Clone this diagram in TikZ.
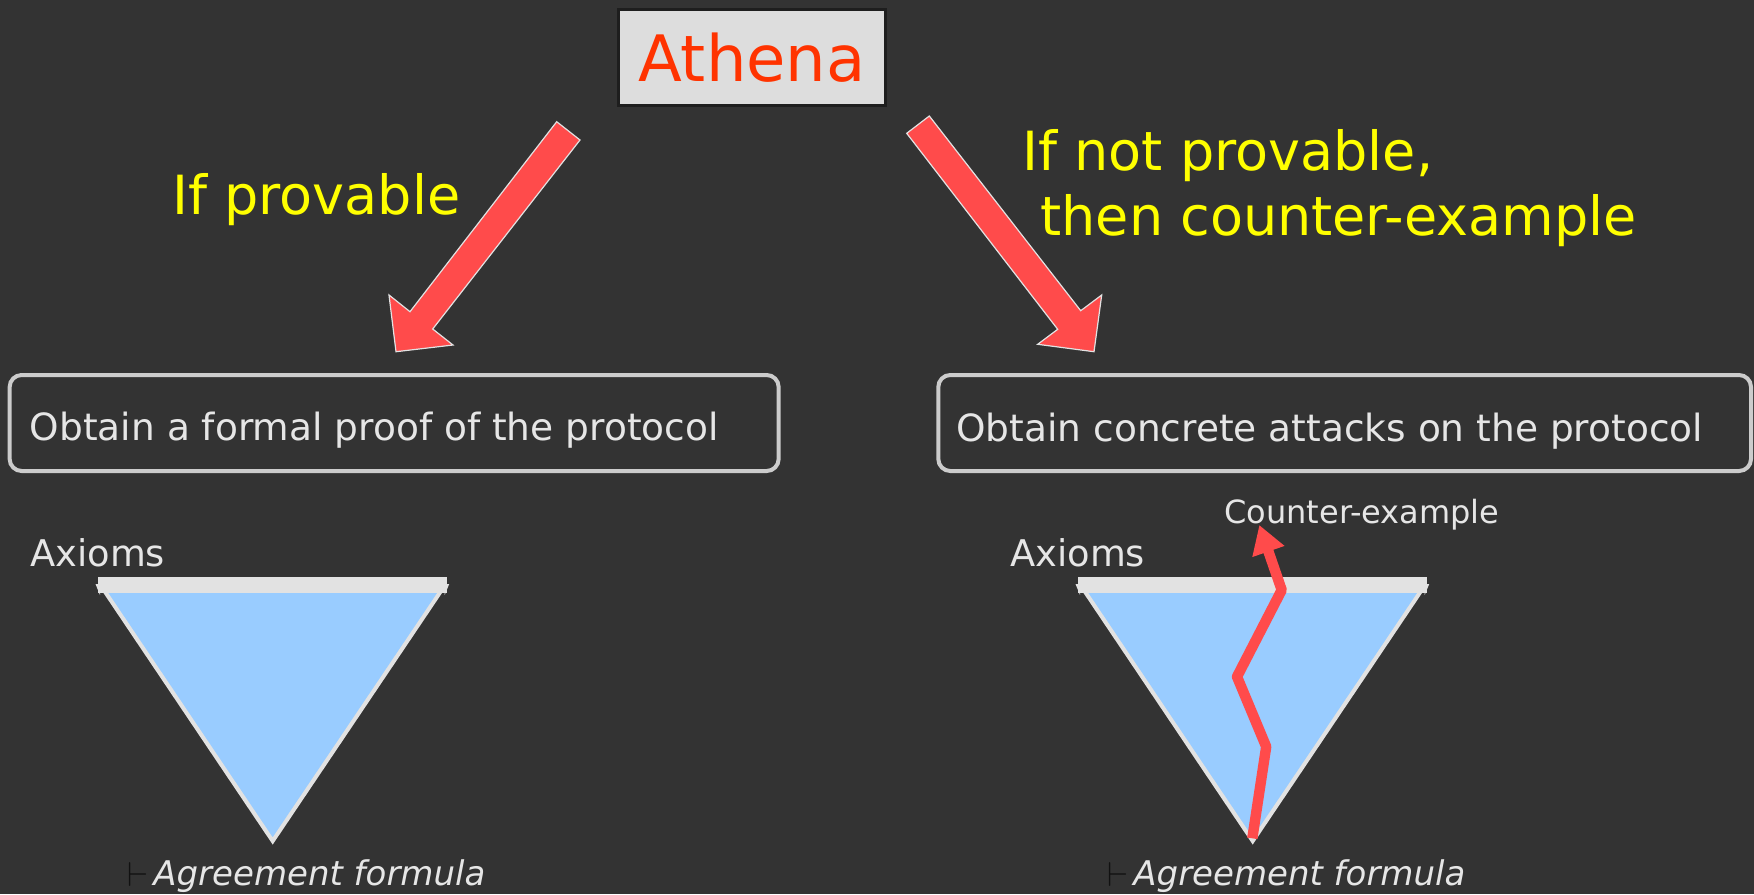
\documentclass[tikz,border=0pt]{standalone}
\usepackage{fontspec}
\setmainfont{DejaVu Sans}
\usetikzlibrary{arrows.meta}

\definecolor{bg}{HTML}{333333}
\definecolor{athenafill}{HTML}{DDDDDD}
\definecolor{athenaframe}{HTML}{1E1E1E}
\definecolor{athenared}{HTML}{FF3300}
\definecolor{arrowred}{HTML}{FF4B4B}
\definecolor{softgrey}{HTML}{CCCCCC}
\definecolor{lighttext}{HTML}{E6E6E6}
\definecolor{skyblue}{HTML}{99CCFF}
\definecolor{edgegrey}{HTML}{E2E2E2}
\definecolor{hintyellow}{HTML}{FFFF00}
\definecolor{turnstile}{HTML}{111111}

\begin{document}
\begin{tikzpicture}[x=0.5pt,y=-0.5pt,
  namebox/.style={draw=athenaframe, line width=1.5pt, fill=athenafill, text=athenared,
    minimum width=133.5pt, minimum height=48pt, inner sep=0pt,
    font=\fontsize{32}{38}\selectfont},
  goalbox/.style={draw=softgrey, line width=2pt, rounded corners=6pt,
    minimum height=48pt, inner sep=0pt},
  goaltext/.style={anchor=base west, inner sep=0pt, text=lighttext,
    font=\fontsize{18.75}{22}\selectfont},
  hinttext/.style={anchor=base west, inner sep=0pt, text=hintyellow,
    font=\fontsize{27}{32}\selectfont},
  blockarrow/.style={fill=arrowred, draw=edgegrey, line width=0.6pt, line join=miter},
  smalltext/.style={anchor=base west, inner sep=0pt, text=lighttext,
    font=\fontsize{18.4}{22}\selectfont},
  formulatext/.style={anchor=base west, inner sep=0pt, text=lighttext,
    font=\fontsize{17}{20}\selectfont\itshape},
  proofcone/.style={fill=skyblue, draw=edgegrey, line width=2pt, line join=miter},
]
% background and page frame
\fill[bg] (0,0) rectangle (1754,894);
\useasboundingbox (0,0) rectangle (1754,894);

% prover
\node[namebox] (athena) at (752,57.5) {Athena};

% outcome boxes
\node[goalbox, minimum width=384.5pt] (proofbox) at (394.15,423) {};
\node[goalbox, minimum width=406.35pt] (attackbox) at (1344.65,423) {};
\node[goaltext] (prooftext) at (29.5,440) {Obtain a formal proof of the protocol};
\node[goaltext] (attacktext) at (956,441) {Obtain concrete attacks on the protocol};

% block arrows from the prover to the outcomes
\draw[blockarrow] (556.7,121.7) -- (580,140) -- (432.7,329) -- (453,345)
  -- (396,351.7) -- (389,295) -- (410,311.7) -- cycle;
\draw[blockarrow] (929.3,116) -- (906.7,133.3) -- (1057.7,329.3) -- (1037.7,344.3)
  -- (1094,351.7) -- (1101.7,295) -- (1080.7,310.7) -- cycle;

% branch conditions
\node[hinttext] (provable) at (172,214) {If provable};
\node[hinttext] (notprovable) at (1022,170) {If not provable,};
\node[hinttext] (counterhint) at (1040,235) {then counter-example};

% proof cones: axioms on top, goal formula at the apex
\foreach \dx/\nm in {0/left,980/right}{
  \draw[proofcone] (102.5+\dx,588) -- (443+\dx,588) -- (272.7+\dx,841) -- cycle;
  \fill[edgegrey] (98+\dx,577.3) rectangle (446.7+\dx,592.7);
  \fill[edgegrey] (95.5+\dx,584) -- (100+\dx,584) -- (100+\dx,595) -- cycle;
  \fill[edgegrey] (449.2+\dx,584) -- (444.7+\dx,584) -- (444.7+\dx,595) -- cycle;
  \node[smalltext] (axioms\nm) at (30+\dx,566.5) {Axioms};
  \node[anchor=base west, inner sep=0pt, text=turnstile,
    font=\fontsize{17}{20}\selectfont] (vdash\nm) at (127+\dx,886) {$\vdash$};
  \node[formulatext] (goal\nm) at (153+\dx,885) {Agreement formula};
}

% counter-example trace escaping the cone
\coordinate (t0) at (1252.3,838.3);
\coordinate (t1) at (1266.2,746.7);
\coordinate (t2) at (1237,676.7);
\coordinate (t3) at (1281.7,590);
\coordinate (t4) at (1259.3,525);
\draw[arrowred, line width=5.2pt, line join=round,
  -{Triangle[length=14pt,width=16pt]}] (t0) -- (t1) -- (t2) -- (t3) -- (t4);
\node[anchor=base west, inner sep=0pt, text=lighttext,
  font=\fontsize{16}{19}\selectfont] (cex) at (1224,523) {Counter-example};
\end{tikzpicture}
\end{document}
